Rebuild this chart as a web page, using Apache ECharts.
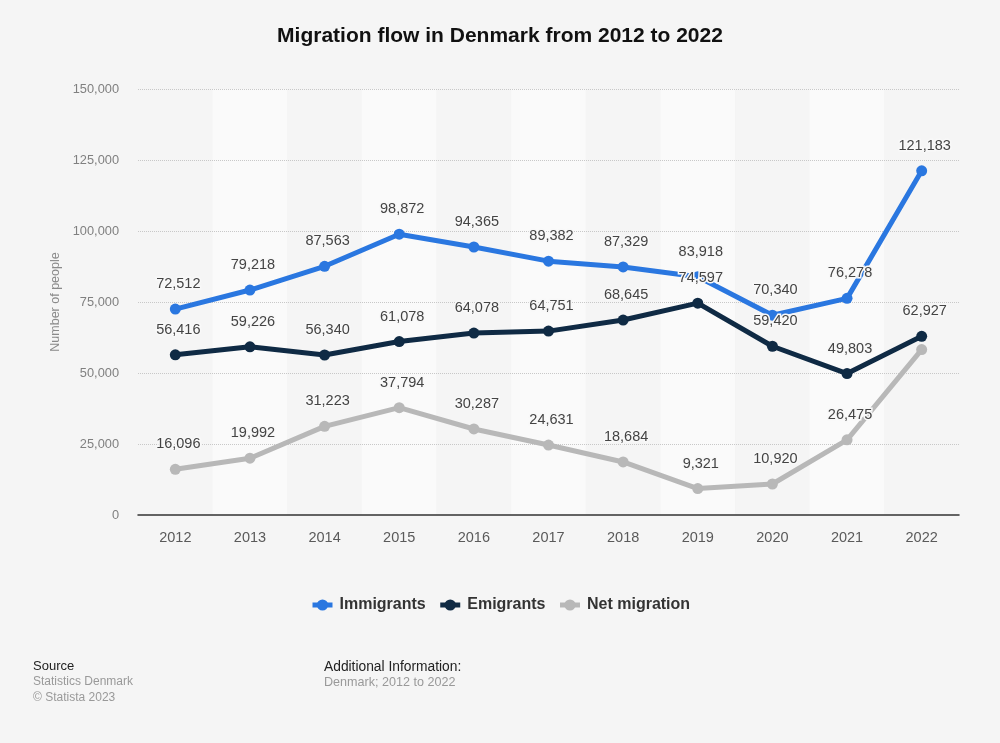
<!DOCTYPE html>
<html><head><meta charset="utf-8">
<style>html,body{margin:0;padding:0;background:#f5f5f5}#c{width:1000px;height:743px}</style>
<script src="https://cdn.jsdelivr.net/npm/echarts@6/dist/echarts.min.js"></script>
</head><body><div id="c"></div>
<script>
const years = ['2012','2013','2014','2015','2016','2017','2018','2019','2020','2021','2022'];
const immigrants = [72512,79218,87563,98872,94365,89382,87329,83918,70340,76278,121183];
const emigrants = [56416,59226,56340,61078,64078,64751,68645,74597,59420,49803,62927];
const netMigration = [16096,19992,31223,37794,30287,24631,18684,9321,10920,26475,58256];
const titleText = 'Migration flow in Denmark from 2012 to 2022';
const yName = 'Number of people';
const font = '"Liberation Sans", Arial, sans-serif';
const chart = echarts.init(document.getElementById('c'), null, {renderer:'canvas'});
function mk(name, color, data, hideLast){
  return {
    name, type:'line', data: data.map((v,i)=> (hideLast && i===data.length-1) ? {value:v,label:{show:false}} : v),
    symbol:'circle', symbolSize:11, showSymbol:true,
    lineStyle:{color,width:5}, itemStyle:{color},
    label:{show:true,position:'top',distance:12,offset:[3,0],fontFamily:font,fontSize:14.5,color:'#444',
      formatter:p=>p.value.toLocaleString('en-US'),
      textBorderColor:'#f8f8f8',textBorderWidth:3},
    emphasis:{disabled:true}, animation:false, z:3
  };
}
chart.setOption({
  backgroundColor:'#f5f5f5',
  animation:false,
  title:{text:titleText,left:'center',top:21,textStyle:{fontFamily:font,fontSize:21,fontWeight:'bold',color:'#111'}},
  grid:{left:138,right:41,top:89,bottom:228,containLabel:false},
  legend:{top:592,left:305,itemWidth:20,itemHeight:14,itemGap:12,
    lineStyle:{width:5},
    textStyle:{fontFamily:font,fontSize:16,fontWeight:'bold',color:'#333',padding:[0,0,0,2]},
    data:['Immigrants','Emigrants','Net migration']},
  xAxis:{type:'category',data:years,boundaryGap:true,z:0,
    axisLine:{show:true,lineStyle:{color:'#333',width:1.5}},axisTick:{show:false},
    axisLabel:{fontFamily:font,fontSize:14.5,color:'#5a5a5a',margin:15},
    splitLine:{show:false},
    splitArea:{show:true,areaStyle:{color:['#f5f5f5','#fafafa']}}},
  yAxis:{type:'value',min:0,max:150000,interval:25000,z:1,
    name:yName,nameLocation:'middle',nameGap:76,nameRotate:90,
    nameTextStyle:{fontFamily:font,fontSize:12.5,color:'#8a8a8a'},
    axisLine:{show:false},axisTick:{show:false},
    axisLabel:{fontFamily:font,fontSize:12.8,color:'#808080',margin:19,
      formatter:v=>v.toLocaleString('en-US')},
    splitLine:{show:true,showMinLine:false,lineStyle:{color:'#c8c8c8',type:'dotted',width:1}}},
  series:[mk('Immigrants','#2a77e0',immigrants),mk('Emigrants','#0f2a44',emigrants),mk('Net migration','#b8b8b8',netMigration,true)],
  graphic:[
    {type:'text',left:33,top:660,style:{text:'Source',font:'13px '+font,fill:'#222'}},
    {type:'text',left:33,top:676,style:{text:'Statistics Denmark',font:'12px '+font,fill:'#999'}},
    {type:'text',left:33,top:692,style:{text:'© Statista 2023',font:'12px '+font,fill:'#999'}},
    {type:'text',left:324,top:660,style:{text:'Additional Information:',font:'13.8px '+font,fill:'#222'}},
    {type:'text',left:324,top:676,style:{text:'Denmark; 2012 to 2022',font:'12.6px '+font,fill:'#999'}}
  ]
});
</script></body></html>
